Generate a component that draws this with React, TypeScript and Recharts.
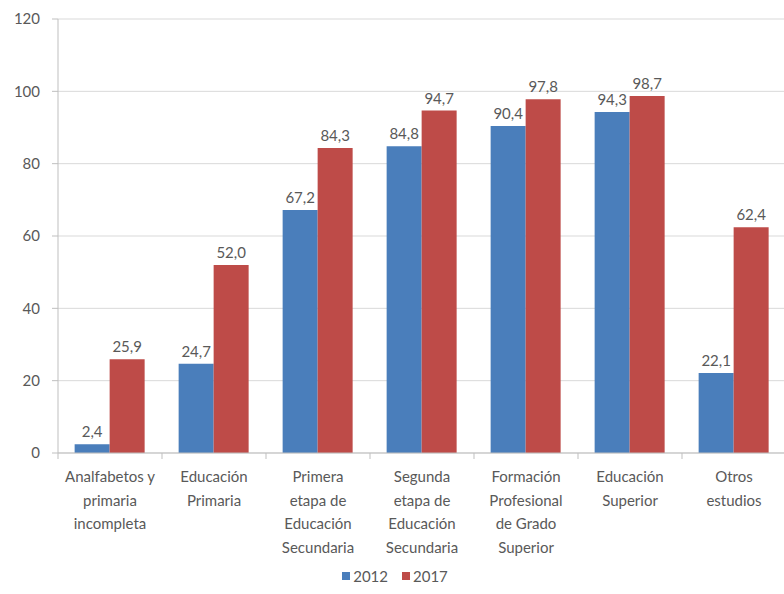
import React from "react";
import { Bar, BarChart, CartesianGrid, LabelList, Legend, XAxis, YAxis } from "recharts";

const categories: string[][] = [
  ["Analfabetos y", "primaria", "incompleta"],
  ["Educación", "Primaria"],
  ["Primera", "etapa de", "Educación", "Secundaria"],
  ["Segunda", "etapa de", "Educación", "Secundaria"],
  ["Formación", "Profesional", "de Grado", "Superior"],
  ["Educación", "Superior"],
  ["Otros", "estudios"],
];
const values2012 = [2.4, 24.7, 67.2, 84.8, 90.4, 94.3, 22.1];
const values2017 = [25.9, 52.0, 84.3, 94.7, 97.8, 98.7, 62.4];
const yTicks = [0, 20, 40, 60, 80, 100, 120];

const BLUE = "#4A7EBB";
const RED = "#BE4B48";
const TEXT = "#595959";
const FONT = "Lato, 'Open Sans', sans-serif";

const data = categories.map((c, i) => ({
  key: String(i),
  lines: c,
  y2012: values2012[i],
  y2017: values2017[i],
}));

const fmt = (v: any) => Number(v).toFixed(1).replace(".", ",");

const CategoryTick = (props: any) => {
  const { x, y, payload, width, visibleTicksCount } = props;
  const lines = categories[Number(payload.value)] || [];
  const step = width / (visibleTicksCount || categories.length);
  return (
    <g>
      <line x1={x + step / 2} x2={x + step / 2} y1={y - 8} y2={y - 2} stroke="#bfbfbf" />
      {Number(payload.value) === 0 && (
        <line x1={x - step / 2} x2={x - step / 2} y1={y - 8} y2={y - 2} stroke="#bfbfbf" />
      )}
      <text x={x} y={y + 21} textAnchor="middle" fill={TEXT} fontSize={15} fontFamily={FONT}>
        {lines.map((l, i) => (
          <tspan key={i} x={x} dy={i === 0 ? 0 : 23.5}>
            {l}
          </tspan>
        ))}
      </text>
    </g>
  );
};

const LegendContent = () => (
  <div
    style={{
      display: "flex",
      justifyContent: "center",
      gap: 14,
      fontFamily: FONT,
      fontSize: 15,
      color: TEXT,
      paddingLeft: 4,
      marginTop: 14,
    }}
  >
    {[
      { name: "2012", color: BLUE },
      { name: "2017", color: RED },
    ].map((it) => (
      <span key={it.name} style={{ display: "flex", alignItems: "center" }}>
        <span style={{ width: 8, height: 8, background: it.color, marginRight: 3 }} />
        {it.name}
      </span>
    ))}
  </div>
);

export default function App() {
  return (
    <div style={{ position: "fixed", left: 0, top: 0, width: 784, height: 594, overflow: "hidden", background: "#fff" }}>
      <BarChart
        width={800}
        height={594}
        data={data}
        margin={{ top: 19, right: 14, left: 0, bottom: 0 }}
        barCategoryGap="16%"
        barGap={0}
      >
        <CartesianGrid vertical={false} stroke="#d9d9d9" />
        <XAxis
          dataKey="key"
          height={100}
          interval={0}
          tickLine={false}
          axisLine={{ stroke: "#bfbfbf" }}
          tick={<CategoryTick />}
        />
        <YAxis
          width={58}
          domain={[0, 120]}
          ticks={yTicks}
          tickSize={6}
          tickMargin={12}
          tickLine={{ stroke: "#bfbfbf" }}
          axisLine={{ stroke: "#bfbfbf" }}
          tick={{ fill: TEXT, fontSize: 15, fontFamily: FONT }}
        />
        <Legend verticalAlign="bottom" height={41} content={<LegendContent />} />
        <Bar dataKey="y2012" name="2012" fill={BLUE} isAnimationActive={false}>
          <LabelList dataKey="y2012" position="top" offset={7} formatter={fmt} fill={TEXT} fontSize={15} fontFamily={FONT} />
        </Bar>
        <Bar dataKey="y2017" name="2017" fill={RED} isAnimationActive={false}>
          <LabelList dataKey="y2017" position="top" offset={7} formatter={fmt} fill={TEXT} fontSize={15} fontFamily={FONT} />
        </Bar>
      </BarChart>
    </div>
  );
}
